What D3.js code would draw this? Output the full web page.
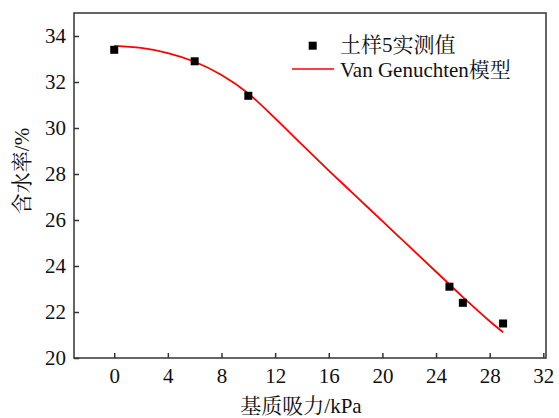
<!DOCTYPE html>
<html>
<head>
<meta charset="utf-8">
<script src="https://cdn.jsdelivr.net/npm/d3@7"></script>
<style>
  body { margin: 0; background: #fff; }
</style>
</head>
<body>
<div id="chart"></div>
<script>
// measured points (soil sample 5)
var suction = [0, 6, 10, 25, 26, 29];
var moisture = [33.4, 32.9, 31.4, 23.1, 22.4, 21.5];

// Van Genuchten fitted curve
var fitX = [0, 2, 4, 6, 8, 10, 12, 14, 16, 18, 20, 22, 24, 26, 28, 29];
var fitY = [33.57, 33.48, 33.26, 32.88, 32.3, 31.5, 30.42, 29.28, 28.15, 27.05, 25.95, 24.85, 23.75, 22.65, 21.6, 21.12];

var xTicks = [0, 4, 8, 12, 16, 20, 24, 28, 32];
var yTicks = [20, 22, 24, 26, 28, 30, 32, 34];

var FONT = "'Liberation Serif', 'Times New Roman', 'Noto Serif CJK SC', 'Noto Sans CJK SC', serif";

var W = 559, H = 418;
var margin = {top: 13, right: 13, bottom: 60, left: 74},
    width = W - margin.left - margin.right,
    height = H - margin.top - margin.bottom;

var svg = d3.select("#chart").append("svg")
    .attr("width", W).attr("height", H)
    .append("g")
    .attr("transform", "translate(" + margin.left + "," + margin.top + ")");

var x = d3.scaleLinear().domain([-3, 32.2]).range([0, width]);
var y = d3.scaleLinear().domain([20, 35]).range([height, 0]);

var axisColor = "#333";

// frame
svg.append("rect")
    .attr("x", 0).attr("y", 0)
    .attr("width", width).attr("height", height)
    .attr("fill", "none")
    .attr("stroke", axisColor)
    .attr("stroke-width", 1.5);

// x axis (ticks pointing inside)
var xAxis = svg.append("g")
    .attr("transform", "translate(0," + height + ")")
    .call(d3.axisBottom(x).tickValues(xTicks).tickSizeInner(-5).tickSizeOuter(0).tickPadding(10));
xAxis.select(".domain").remove();
xAxis.selectAll("line").attr("stroke", axisColor).attr("stroke-width", 1.5);
xAxis.selectAll("text").style("font-size", "21px").style("font-family", FONT).attr("fill", "#111");

// y axis
var yAxis = svg.append("g")
    .call(d3.axisLeft(y).tickValues(yTicks).tickSizeInner(-5).tickSizeOuter(0).tickPadding(8));
yAxis.select(".domain").remove();
yAxis.selectAll("line").attr("stroke", axisColor).attr("stroke-width", 1.5);
yAxis.selectAll("text").style("font-size", "21px").style("font-family", FONT).attr("fill", "#111");

// fitted curve
var fit = fitX.map(function(d, i) { return {x: d, y: fitY[i]}; });
var line = d3.line()
    .x(function(d) { return x(d.x); })
    .y(function(d) { return y(d.y); })
    .curve(d3.curveMonotoneX);

svg.append("path")
    .datum(fit)
    .attr("fill", "none")
    .attr("stroke", "#ff0000")
    .attr("stroke-width", 1.8)
    .attr("d", line);

// measured points
var pts = suction.map(function(d, i) { return {x: d, y: moisture[i]}; });
var s = 8;
svg.append("g").selectAll("rect")
    .data(pts)
    .enter()
    .append("rect")
    .attr("x", function(d) { return x(d.x) - s / 2; })
    .attr("y", function(d) { return y(d.y) - s / 2; })
    .attr("width", s).attr("height", s)
    .attr("fill", "#000");

function label(g) {
    return g.append("text")
        .style("font-size", "21px")
        .style("font-family", FONT)
        .attr("fill", "#111");
}

// legend
var lg = svg.append("g");
lg.append("rect")
    .attr("x", 312.7 - margin.left - 4).attr("y", 45.7 - margin.top - 4)
    .attr("width", 8).attr("height", 8)
    .attr("fill", "#000");
label(lg)
    .attr("x", 340 - margin.left).attr("y", 52 - margin.top)
    .text("土样5实测值");
lg.append("line")
    .attr("x1", 292 - margin.left).attr("x2", 334 - margin.left)
    .attr("y1", 69 - margin.top).attr("y2", 69 - margin.top)
    .attr("stroke", "#ff0000").attr("stroke-width", 1.5);
label(lg)
    .attr("x", 340 - margin.left).attr("y", 77 - margin.top)
    .text("Van Genuchten模型");

// x axis label
label(svg)
    .attr("x", 301 - margin.left)
    .attr("y", height + 55)
    .attr("text-anchor", "middle")
    .text("基质吸力/kPa");

// y axis label
label(svg)
    .attr("transform", "rotate(-90)")
    .attr("x", -(171 - margin.top))
    .attr("y", 29 - margin.left)
    .attr("text-anchor", "middle")
    .text("含水率/%");
</script>
</body>
</html>
